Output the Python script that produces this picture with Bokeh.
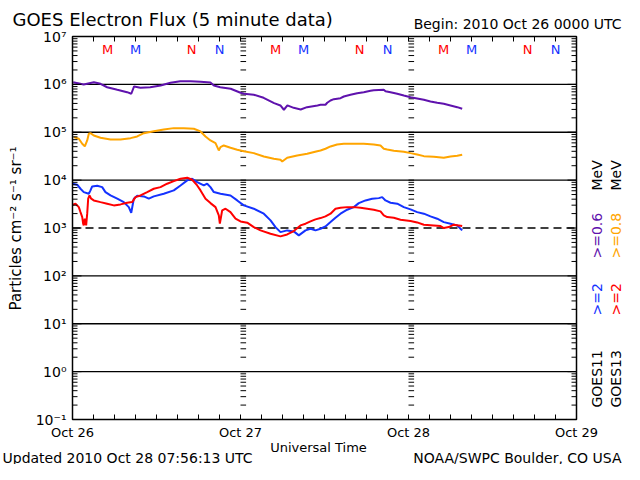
import math
import numpy as np
from bokeh.plotting import figure
from bokeh.models import Range1d
from bokeh.embed import file_html
from bokeh.resources import INLINE
from bokeh.core.properties import value

# ---------------- data (hours since 2010 Oct 26 00:00 UT, log10 flux) ----------------
purple_h = [0.1, 1.6, 3.05, 4.0, 4.95, 6.4, 7.8, 8.4, 8.8, 9.7, 11.1, 12.6, 14.0, 15.4, 16.9,
            18.3, 19.7, 20.2, 21.1, 22.6, 24.0, 24.5, 25.9, 27.3, 28.8, 29.7, 30.2, 30.7, 31.6,
            32.6, 33.5, 35.0, 35.43, 36.14, 36.39, 36.86, 37.33, 38.29, 38.76, 39.71, 40.67,
            41.61, 42.57, 43.04, 44.47, 44.71, 45.43, 46.39, 47.33, 48.29, 49.24, 50.19, 51.14,
            52.1, 53.04, 54.0, 54.96, 55.67]
purple_log = [6.046, 5.998, 6.046, 6.012, 5.94, 5.887, 5.837, 5.804, 5.956, 5.929, 5.94, 5.977,
              6.033, 6.067, 6.067, 6.054, 6.04, 5.977, 5.94, 5.908, 5.825, 5.804, 5.783, 5.72,
              5.608, 5.56, 5.47, 5.56, 5.51, 5.476, 5.524, 5.56, 5.574, 5.574, 5.616, 5.664,
              5.691, 5.712, 5.747, 5.783, 5.816, 5.837, 5.866, 5.879, 5.887, 5.858, 5.837, 5.804,
              5.768, 5.733, 5.706, 5.678, 5.643, 5.616, 5.595, 5.56, 5.524, 5.491]

orange_h = [0.19, 0.9, 1.39, 1.76, 2.1, 2.33, 2.57, 3.04, 4.0, 5.43, 6.86, 8.29, 9.24, 10.19,
            11.61, 13.04, 14.47, 15.9, 17.33, 18.29, 19.0, 19.71, 20.43, 20.9, 21.14, 21.61,
            22.57, 23.53, 24.47, 25.9, 27.33, 28.76, 29.71, 29.96, 30.67, 32.1, 33.53, 34.96,
            35.43, 36.14, 36.86, 37.8, 38.76, 40.19, 41.61, 43.04, 44.0, 44.47, 44.96, 45.9,
            47.33, 48.29, 49.24, 50.19, 51.61, 53.04, 54.0, 54.96, 55.67]
orange_log = [4.898, 4.864, 4.76, 4.704, 4.829, 4.969, 4.981, 4.933, 4.885, 4.85, 4.85, 4.877,
              4.912, 4.981, 5.023, 5.058, 5.086, 5.086, 5.073, 5.017, 4.912, 4.829, 4.772, 4.62,
              4.689, 4.724, 4.676, 4.635, 4.605, 4.564, 4.495, 4.447, 4.426, 4.39, 4.468, 4.516,
              4.551, 4.605, 4.62, 4.656, 4.704, 4.745, 4.76, 4.76, 4.76, 4.745, 4.724, 4.656,
              4.641, 4.614, 4.593, 4.564, 4.537, 4.501, 4.489, 4.468, 4.495, 4.509, 4.53]

blue_h = [0.05, 0.67, 1.14, 1.61, 2.33, 2.57, 2.81, 3.53, 4.24, 4.71, 5.43, 6.39, 7.33, 8.04,
          8.39, 8.76, 9.24, 10.19, 10.9, 11.61, 13.04, 14.47, 15.43, 16.39, 17.1, 17.81, 18.76,
          19.24, 19.71, 20.19, 21.14, 22.57, 23.53, 24.47, 25.9, 27.33, 28.29, 29.0, 29.71,
          30.67, 31.61, 32.33, 33.29, 34.0, 34.71, 35.43, 36.14, 36.86, 37.57, 38.29, 39.24,
          40.19, 40.9, 41.86, 42.81, 43.76, 44.24, 44.71, 45.43, 46.39, 47.33, 48.29, 49.24,
          50.19, 51.14, 52.1, 53.04, 54.0, 54.96, 55.43, 55.67]
blue_log = [3.925, 3.904, 3.82, 3.75, 3.716, 3.785, 3.868, 3.883, 3.854, 3.75, 3.68, 3.612,
            3.541, 3.436, 3.319, 3.612, 3.674, 3.66, 3.612, 3.66, 3.716, 3.785, 3.889, 3.994,
            4.029, 3.958, 3.889, 3.925, 3.854, 3.75, 3.716, 3.68, 3.576, 3.472, 3.403, 3.299,
            3.159, 3.019, 2.914, 2.95, 2.929, 2.846, 2.95, 2.985, 2.95, 2.985, 3.033, 3.123,
            3.215, 3.299, 3.382, 3.436, 3.52, 3.576, 3.612, 3.624, 3.645, 3.576, 3.528, 3.507,
            3.436, 3.388, 3.332, 3.299, 3.242, 3.194, 3.123, 3.09, 3.054, 2.985, 2.95]

red_h = [0.05, 0.43, 0.9, 1.14, 1.39, 1.52, 1.61, 1.76, 1.95, 2.1, 2.24, 2.43, 2.67, 3.04, 4.0,
         4.95, 5.9, 6.86, 7.81, 8.52, 9.0, 9.71, 10.67, 11.61, 12.57, 13.52, 14.47, 15.43, 16.39,
         17.1, 17.81, 18.29, 19.0, 19.71, 20.43, 20.9, 21.05, 21.38, 21.86, 22.57, 23.29, 24.0,
         24.96, 25.9, 26.86, 28.29, 29.71, 30.67, 31.61, 32.57, 33.29, 34.0, 34.71, 35.43,
         36.14, 36.86, 37.57, 38.29, 39.24, 40.19, 41.14, 42.1, 43.04, 44.0, 44.47, 44.96, 45.9,
         46.86, 48.29, 49.24, 50.19, 51.61, 52.57, 53.04, 53.76, 54.47, 55.19, 55.67]
red_log = [3.486, 3.507, 3.436, 3.332, 3.228, 3.09, 3.054, 3.194, 3.054, 3.299, 3.612, 3.68,
           3.612, 3.576, 3.541, 3.507, 3.472, 3.493, 3.528, 3.541, 3.645, 3.68, 3.75, 3.82,
           3.854, 3.925, 3.979, 4.029, 4.05, 4.008, 3.889, 3.785, 3.612, 3.52, 3.436, 3.263,
           3.09, 3.367, 3.403, 3.332, 3.194, 3.138, 3.111, 3.019, 2.95, 2.881, 2.825, 2.866,
           2.935, 3.054, 3.09, 3.138, 3.18, 3.207, 3.242, 3.299, 3.403, 3.424, 3.436, 3.436,
           3.424, 3.403, 3.382, 3.347, 3.263, 3.228, 3.215, 3.173, 3.144, 3.117, 3.069, 3.054,
           3.04, 2.998, 3.019, 3.069, 3.054, 3.04]

# local midnight (M) / noon (N) hours for each satellite
g13_midnight = [5, 29, 53]
g11_midnight = [9, 33, 57]
g13_noon = [17, 41, 65]
g11_noon = [21, 45, 69]

day_ticks = [0, 24, 48, 72]
day_labels = ["Oct 26", "Oct 27", "Oct 28", "Oct 29"]
hour_minor = list(range(3, 72, 3))
decades = list(range(-1, 8))
decade_labels = ["10\u207b\u00b9", "10\u2070", "10\u00b9", "10\u00b2", "10\u00b3",
                 "10\u2074", "10\u2075", "10\u2076", "10\u2077"]

PURPLE = "#5f12ad"
ORANGE = "#ffa500"
BLUE = "#1432ff"
RED = "#ff0000"
FONT = "DejaVu Sans"

# ---------------- geometry ----------------
W, H = 624, 464
FX0, FY0 = 72, 36            # data box top-left (px)
PX_PER_H = 7.0               # 504 px for 72 h
PX_PER_DEC = 47.875          # 383 px for 8 decades
T_MIN, T_MAX = 0, 72
Y_MIN, Y_MAX = 0.1, 1e7

def rx(px):
    return (px - FX0) / PX_PER_H

def ry(py):
    return 10 ** (7 - (py - FY0) / PX_PER_DEC)

p = figure(width=W, height=H, x_range=Range1d(rx(0), rx(W)), y_range=Range1d(ry(H), ry(0)),
           y_axis_type="log", x_axis_location=None, y_axis_location=None,
           output_backend="svg", toolbar_location=None, title=None,
           min_border=0, min_border_left=0, min_border_right=0, min_border_top=0,
           min_border_bottom=0, background_fill_color="white", border_fill_color="white")
p.xgrid.visible = False
p.ygrid.visible = False
p.outline_line_color = None

major_y = [10.0 ** n for n in decades]
minor_y = [k * 10.0 ** n for n in range(-1, 7) for k in range(2, 10)]

# horizontal decade lines
solid = [10.0 ** n for n in [0, 1, 2, 4, 5, 6]]
p.segment(x0=[T_MIN] * len(solid), x1=[T_MAX] * len(solid), y0=solid, y1=solid,
          line_color="black", line_width=1.3)
p.segment(x0=[T_MIN], x1=[T_MAX], y0=[1e3], y1=[1e3], line_color="black", line_width=1.3,
          line_dash="8 5")

# log tick columns at the day boundaries
col_vals = [k * 10.0 ** n for n in range(-1, 7) for k in range(1, 10)] + [1e7]
for d in day_ticks[1:3]:
    p.segment(x0=[d] * len(col_vals), x1=[d + 0.8] * len(col_vals), y0=col_vals, y1=col_vals,
              line_color="black", line_width=1)

# data lines
p.line(purple_h, 10 ** np.array(purple_log), line_color=PURPLE, line_width=2)
p.line(orange_h, 10 ** np.array(orange_log), line_color=ORANGE, line_width=2)
p.line(blue_h, 10 ** np.array(blue_log), line_color=BLUE, line_width=2)
p.line(red_h, 10 ** np.array(red_log), line_color=RED, line_width=2)

# axes box and ticks
p.quad(left=[T_MIN], right=[T_MAX], bottom=[Y_MIN], top=[Y_MAX], fill_color=None,
       line_color="black", line_width=1.5)
tmin = 5 / PX_PER_H
tmaj = 9 / PX_PER_H
for ys, ln in [(minor_y, tmin), (major_y, tmaj)]:
    p.segment(x0=[T_MIN] * len(ys), x1=[T_MIN + ln] * len(ys), y0=ys, y1=ys,
              line_color="black", line_width=1)
    p.segment(x0=[T_MAX - ln] * len(ys), x1=[T_MAX] * len(ys), y0=ys, y1=ys,
              line_color="black", line_width=1)
dy = 10 ** (5 / PX_PER_DEC)
p.segment(x0=hour_minor, x1=hour_minor, y0=[Y_MIN] * len(hour_minor),
          y1=[Y_MIN * dy] * len(hour_minor), line_color="black", line_width=1)
p.segment(x0=hour_minor, x1=hour_minor, y0=[Y_MAX] * len(hour_minor),
          y1=[Y_MAX / dy] * len(hour_minor), line_color="black", line_width=1)

# tick labels
p.text(x=[rx(66)] * len(major_y), y=major_y, text=decade_labels, text_color="black",
       text_font=value(FONT), text_font_size="14px", text_align="right",
       text_baseline="middle")
p.text(x=day_ticks, y=[ry(432)] * len(day_ticks), text=day_labels, text_color="black",
       text_font=value(FONT), text_font_size="13px", text_align="center",
       text_baseline="middle")

# M / N markers
my = ry(49)
for xs, txt, col in [(g13_midnight, "M", RED), (g11_midnight, "M", BLUE),
                     (g13_noon, "N", RED), (g11_noon, "N", BLUE)]:
    p.text(x=xs, y=[my] * len(xs), text=[txt] * len(xs), text_color=col,
           text_font=value(FONT), text_font_size="13px", text_align="center",
           text_baseline="middle")

# ---------------- other texts ----------------
def txt(text, px, py, size, align="left", color="black", angle=0.0):
    p.text(x=[rx(px)], y=[ry(py)], text=[text], text_color=color, text_font=value(FONT),
           text_font_size=size, text_align=align, text_baseline="middle", angle=angle)

txt("GOES Electron Flux (5 minute data)", 12, 19, "18px")
txt("Begin: 2010 Oct 26 0000 UTC", 621, 23, "14px", align="right")
txt("Universal Time", 318, 447, "13px", align="center")
txt("Updated 2010 Oct 28 07:56:13 UTC", 2, 457, "14px")
txt("NOAA/SWPC Boulder, CO USA", 621, 457, "14px", align="right")
txt("Particles cm\u207b\u00b2 s\u207b\u00b9 sr\u207b\u00b9", 15, 228, "15px",
    align="center", angle=math.pi / 2)

# right-side vertical legend
half = math.pi / 2
for cx, sat, lo_lbl, lo_col, hi_lbl, hi_col in [
        (596, "GOES11", ">=2", BLUE, ">=0.6", PURPLE),
        (615, "GOES13", ">=2", RED, ">=0.8", ORANGE)]:
    txt(sat, cx, 407, "14px", angle=half)
    txt(lo_lbl, cx, 315, "14px", color=lo_col, angle=half)
    txt(hi_lbl, cx, 258, "14px", color=hi_col, angle=half)
    txt("MeV", cx, 190, "14px", angle=half)

open("out.html", "w").write(file_html(p, INLINE))
